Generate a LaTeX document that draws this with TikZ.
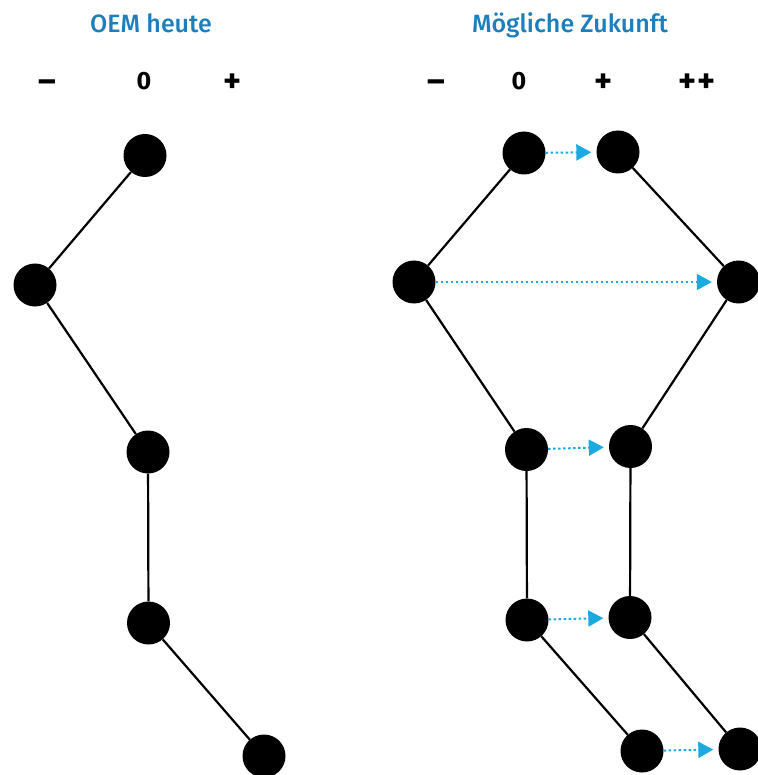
\documentclass[tikz,border=0pt]{standalone}
\usepackage{fontspec}
\setmainfont{Fira Sans}
\newfontfamily\titlefont{Fira Sans}[UprightFont=* Medium]
\usetikzlibrary{arrows.meta}
\definecolor{titleblue}{RGB}{28,126,186}
\definecolor{arrowblue}{RGB}{26,170,224}
\begin{document}
\begin{tikzpicture}[x=1pt,y=-1pt,
  dot/.style={circle,fill=black,inner sep=0pt,minimum size=43pt},
  link/.style={line width=2.2pt,black},
  shift arrow/.style={arrowblue,line width=2pt,dash pattern=on 2.4pt off 2.6pt,
    -{Triangle[length=15pt,width=16pt]},shorten >=5pt},
  heading/.style={anchor=base,font=\titlefont\fontsize{25}{28}\selectfont,text=titleblue},
  scale label/.style={anchor=base,font=\bfseries\fontsize{25}{28}\selectfont},
  sign label/.style={anchor=base,font=\bfseries\fontsize{34}{36}\selectfont}]
\useasboundingbox (0,0) rectangle (757,775);

% headings
\node[heading] (h1) at (151,33) {OEM heute};
\node[heading] (h2) at (570,33) {Mögliche Zukunft};

% scales
\node[sign label] (l1) at (47,93) {–};
\node[scale label] (l2) at (144,90) {0};
\node[sign label] (l3) at (233,93) {+};
\node[sign label] (r1) at (436,93) {–};
\node[scale label] (r2) at (519,90) {0};
\node[sign label] (r3) at (604,93) {+};
\node[sign label] (r4) at (697,93) {++};

% today
\node[dot] (a1) at (145,155.5) {};
\node[dot] (a2) at (35,285) {};
\node[dot] (a3) at (148,452) {};
\node[dot] (a4) at (148.5,623) {};
\node[dot] (a5) at (264,756) {};
\draw[link] (a1) -- (a2) -- (a3) -- (a4) -- (a5);

% possible future
\node[dot] (b1) at (524,153) {};
\node[dot] (b2) at (618,152) {};
\node[dot] (b3) at (414,282) {};
\node[dot] (b4) at (738.5,282) {};
\node[dot] (b5) at (526.5,449.5) {};
\node[dot] (b6) at (630.5,446.5) {};
\node[dot] (b7) at (527,620) {};
\node[dot] (b8) at (630,617.5) {};
\node[dot] (b9) at (642,751) {};
\node[dot] (b10) at (740,749) {};
\draw[link] (b1) -- (b3) -- (b5) -- (b7) -- (b9);
\draw[link] (b2) -- (b4) -- (b6) -- (b8) -- (b10);

% shifts
\draw[shift arrow] (b1) -- (b2);
\draw[shift arrow] (b3) -- (b4);
\draw[shift arrow] (b5) -- (b6);
\draw[shift arrow] (b7) -- (b8);
\draw[shift arrow] (b9) -- (b10);
\end{tikzpicture}
\end{document}
